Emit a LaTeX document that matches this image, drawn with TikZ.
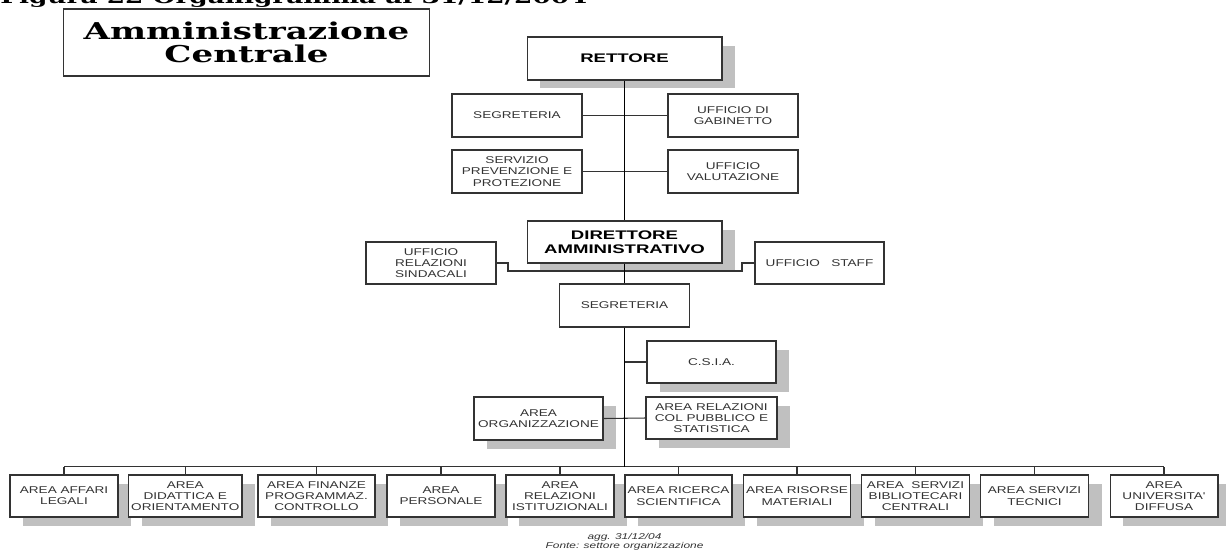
\documentclass[tikz,border=0pt]{standalone}
\usepackage{fontspec}
\setmainfont{Liberation Sans}
\newfontfamily\boxf{Liberation Sans}[FakeStretch=1.38]
\newfontfamily\bigf{Liberation Sans}[FakeStretch=1.49]
\newfontfamily\titlef{DejaVu Serif}[FakeStretch=1.47]
\newfontfamily\footf{Liberation Sans}[FakeStretch=1.41]
\usetikzlibrary{shadows}
\definecolor{ink}{HTML}{333333}
\definecolor{shade}{HTML}{C0C0C0}
\begin{document}
\begin{tikzpicture}[x=0.02cm,y=-0.02cm,
  box/.style={draw=ink, line width=0.6pt, fill=white, text=ink, align=center, inner sep=0pt,
    font=\boxf\fontsize{5.6}{6.4}\selectfont},
  sbox/.style={box, general shadow={fill=shade, shadow xshift=0.26cm, shadow yshift=-0.17cm}},
  bigbox/.style={sbox, text=black, font=\bigf\bfseries\fontsize{7.1}{8.1}\selectfont},
  std/.style={minimum width=2.6cm, minimum height=0.86cm},
  bot/.style={sbox, minimum width=2.16cm, minimum height=0.84cm},
  link/.style={draw=ink, line width=0.6pt},
  spine/.style={draw=black, line width=1.1pt}]
\clip (0,0) rectangle (1226,555);
\fill[white] (0,0) rectangle (1226,555);

% caption (cut at the top, as in the reference)
\node[anchor=base west, inner sep=0pt, font=\titlef\bfseries\fontsize{10.2}{11}\selectfont] (cap) at (0,3) {Figura 22 Organigramma al 31/12/2004};

% title box
\node[draw=ink, line width=0.6pt, minimum width=7.34cm, minimum height=1.34cm, align=center, inner sep=0pt,
  font=\titlef\bfseries\fontsize{13.2}{13.4}\selectfont] (title) at (246.5,42.5) {Amministrazione\\Centrale};

% upper part
\node[bigbox, minimum width=3.9cm, minimum height=0.86cm] (rett) at (624.5,58.5) {RETTORE};
\node[box, std] (seg1) at (517,115.5) {SEGRETERIA};
\node[box, std] (gab) at (733,115.5) {UFFICIO DI\\GABINETTO};
\node[box, std] (serv) at (517,171.5) {SERVIZIO\\PREVENZIONE E\\PROTEZIONE};
\node[box, std] (val) at (733,171.5) {UFFICIO\\VALUTAZIONE};
\node[bigbox, minimum width=3.9cm, minimum height=0.84cm] (dir) at (624.5,242) {DIRETTORE\\AMMINISTRATIVO};
\node[box, minimum width=2.6cm, minimum height=0.84cm] (urs) at (431,263) {UFFICIO\\RELAZIONI\\SINDACALI};
\node[box, minimum width=2.58cm, minimum height=0.84cm] (staff) at (819.5,263) {UFFICIO\ \ \ STAFF};
\node[box, std] (seg2) at (624.5,305.5) {SEGRETERIA};
\node[sbox, minimum width=2.58cm, minimum height=0.84cm] (csia) at (711.5,362) {C.S.I.A.};
\node[sbox, minimum width=2.58cm, minimum height=0.86cm] (org) at (538.5,418.5) {AREA\\ORGANIZZAZIONE};
\node[sbox, minimum width=2.62cm, minimum height=0.84cm] (pub) at (711.5,418) {AREA RELAZIONI\\COL PUBBLICO E\\STATISTICA};

% bottom row
\node[bot] (b1) at (64,496) {AREA AFFARI\\LEGALI};
\node[bot, minimum width=2.27cm] (b2) at (185.25,496) {AREA\\DIDATTICA E\\ORIENTAMENTO};
\node[bot, minimum width=2.34cm] (b3) at (316.5,496) {AREA FINANZE\\PROGRAMMAZ.\\CONTROLLO};
\node[bot] (b4) at (441,496) {AREA\\PERSONALE};
\node[bot] (b5) at (560,496) {AREA\\RELAZIONI\\ISTITUZIONALI};
\node[bot, minimum width=2.14cm] (b6) at (678.5,496) {AREA RICERCA\\SCIENTIFICA};
\node[bot, minimum width=2.14cm] (b7) at (797,496) {AREA RISORSE\\MATERIALI};
\node[bot] (b8) at (915.5,496) {AREA\ \ SERVIZI\\BIBLIOTECARI\\CENTRALI};
\node[bot] (b9) at (1034.5,496) {AREA SERVIZI\\TECNICI};
\node[bot] (b10) at (1164,496) {AREA\\UNIVERSITA'\\DIFFUSA};

\coordinate (busM) at (624.5,466.5);
\coordinate (j1) at (508,271);
\coordinate (j2) at (742,271);

% thin connectors
\draw[link] (seg1.east) -- (gab.west);
\draw[link] (serv.east) -- (val.west);
\draw[link] (urs.east) -- (urs.east -| j1) -- (j1) -- (j2) -- (staff.west -| j2) -- (staff.west);
\draw[link] (csia.west) -- (csia.west -| busM);
\draw[link] (org.east) -- (pub.west);
\draw[link] (b1.north |- busM) -- (b10.north |- busM);
\foreach \b in {b1,b2,b3,b4,b5,b6,b7,b8,b9,b10}
  \draw[link] (\b.north) -- (\b.north |- busM);

% main spine
\draw[spine] (rett.south) -- (dir.north);
\draw[spine] (dir.south) -- (seg2.north);
\draw[spine] (seg2.south) -- (busM);

% footer
\node[align=center, inner sep=0pt, text=ink, font=\footf\itshape\fontsize{4.8}{4.9}\selectfont] (foot) at (624.5,542) {agg. 31/12/04\\Fonte: settore organizzazione};
\end{tikzpicture}
\end{document}
